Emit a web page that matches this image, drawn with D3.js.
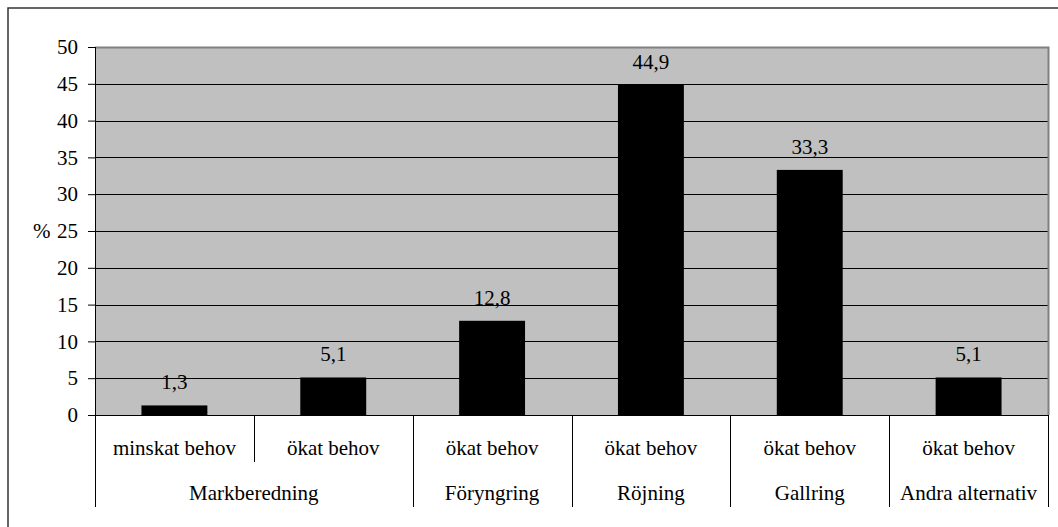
<!DOCTYPE html>
<html><head><meta charset="utf-8">
<script src="https://cdn.jsdelivr.net/npm/d3@7"></script>
<style>body{margin:0;background:#fff}svg{display:block}</style>
</head><body><svg id="c" width="1058" height="527"></svg>
<script>
const groups = ["Markberedning","Markberedning","Föryngring","Röjning","Gallring","Andra alternativ"];
const subcats = ["minskat behov","ökat behov","ökat behov","ökat behov","ökat behov","ökat behov"];
const values = [1.3,5.1,12.8,44.9,33.3,5.1];
const valueLabels = ["1,3","5,1","12,8","44,9","33,3","5,1"];
const yTicks = [0,5,10,15,20,25,30,35,40,45,50];

const FONT = '"Liberation Serif"';
const fs = "21px";
const svg = d3.select("#c");
const L=95,R=1048,T=47,B=415;
const idx = d3.range(values.length);
const x = d3.scaleBand().domain(idx).range([L,R]).padding(0);
const xb = d3.scaleBand().domain(idx).range([L,R]).paddingInner(0.585).paddingOuter(0.2925);
const y = d3.scaleLinear().domain([0,50]).range([B,T]);
function st(sel){return sel.style("font-family",FONT).style("font-size",fs).style("fill","#000");}

// outer frame
svg.append("rect").attr("x",8).attr("y",8).attr("width",1070).attr("height",540)
  .attr("fill","none").attr("stroke","#333").attr("stroke-width",1.5);

// plot bg
svg.append("rect").attr("x",L).attr("y",T).attr("width",R-L).attr("height",B-T).attr("fill","#c0c0c0");
// gridlines
svg.append("g").selectAll("line").data(yTicks.filter(d=>d>0&&d<50)).join("line")
  .attr("x1",L).attr("x2",R).attr("y1",d=>Math.round(y(d))+0.5).attr("y2",d=>Math.round(y(d))+0.5)
  .attr("stroke","#000").attr("stroke-width",1);
// top/right border gray
svg.append("path").attr("d",`M${L},${T+0.5}H${R+0.5}V${B}`).attr("fill","none").attr("stroke","#808080").attr("stroke-width",2);

// bars
svg.append("g").selectAll("rect").data(idx).join("rect")
  .attr("x",i=>xb(i)).attr("width",xb.bandwidth())
  .attr("y",i=>y(values[i])).attr("height",i=>B-y(values[i])).attr("fill","#000");

// value labels
st(svg.append("g").selectAll("text").data(idx).join("text")
  .attr("x",i=>x(i)+x.bandwidth()/2).attr("y",i=>y(values[i])-16)
  .attr("text-anchor","middle").text(i=>valueLabels[i]));

// y axis
const yAxis = d3.axisLeft(y).tickValues(yTicks).tickSize(7).tickPadding(10).tickFormat(d=>d);
const ga = svg.append("g").attr("transform",`translate(${L},0)`).call(yAxis);
ga.attr("font-family",null).attr("font-size",null);
ga.select(".domain").attr("stroke","#000").attr("d",`M0.5,${T}V${B}`);
ga.selectAll(".tick line").attr("stroke","#000");
st(ga.selectAll(".tick text"));
st(svg.append("text").attr("x",33).attr("y",y(25)).attr("dy","0.32em").text("%"));

// x axis line
svg.append("line").attr("x1",L).attr("x2",R).attr("y1",B+0.5).attr("y2",B+0.5).attr("stroke","#000");

// category labels level 1
st(svg.append("g").selectAll("text").data(idx).join("text")
  .attr("x",i=>x(i)+x.bandwidth()/2).attr("y",448).attr("dy","0.35em")
  .attr("text-anchor","middle").text(i=>subcats[i]));

// separators
const bounds = d3.range(values.length+1);
svg.append("g").selectAll("line").data(bounds).join("line")
  .attr("x1",i=>Math.round(i<values.length?x(i):R)+0.5).attr("x2",i=>Math.round(i<values.length?x(i):R)+0.5)
  .attr("y1",B).attr("y2",i=>(i===0||i===values.length||groups[i]!==groups[i-1])?507:462)
  .attr("stroke","#000");

// group labels
const gNames = [...new Set(groups)];
st(svg.append("g").selectAll("text").data(gNames).join("text")
  .attr("x",g=>{const ii=idx.filter(i=>groups[i]===g);return (x(ii[0])+x(ii[ii.length-1])+x.bandwidth())/2;})
  .attr("y",493).attr("dy","0.35em").attr("text-anchor","middle").text(g=>g));
</script></body></html>
